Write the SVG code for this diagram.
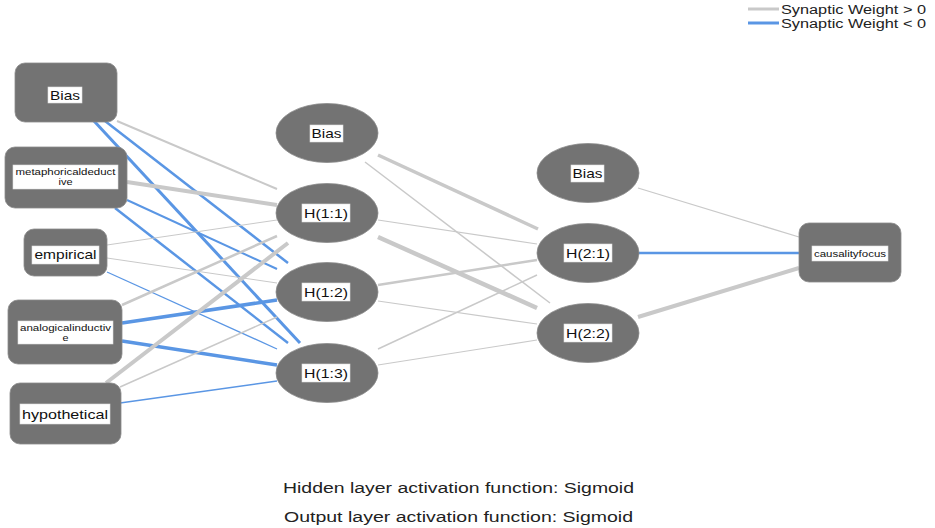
<svg xmlns="http://www.w3.org/2000/svg" width="935" height="528" viewBox="0 0 935 528">
  <style>
    .node { fill: #737373; stroke: #8a8a8a; stroke-width: 0.8; }
    .lbl { fill: #ffffff; stroke: #e2e2e2; stroke-width: 0.6; }
    .t { font-family: "Liberation Sans", Arial, sans-serif; fill: #111111; text-anchor: middle; }
    .pos { stroke: #c9c9c9; fill: none; }
    .neg { stroke: #5a96e4; fill: none; }
    .note { font-family: "Liberation Sans", Arial, sans-serif; fill: #222222; font-size: 14px; }
    .leg { font-family: "Liberation Sans", Arial, sans-serif; fill: #222222; font-size: 12px; }
  </style>

  <!-- legend -->
  <g id="legend">
    <line x1="748" y1="9" x2="779" y2="9" class="pos" stroke-width="3"/>
    <text x="781" y="14" class="leg" textLength="145" lengthAdjust="spacingAndGlyphs">Synaptic Weight &gt; 0</text>
    <line x1="748" y1="23" x2="779" y2="23" class="neg" stroke-width="3"/>
    <text x="781" y="28" class="leg" textLength="145" lengthAdjust="spacingAndGlyphs">Synaptic Weight &lt; 0</text>
  </g>

  <!-- synaptic weights -->
  <g id="connectors">
    <!-- input layer to hidden layer 1 -->
    <line x1="117" y1="121" x2="277" y2="189" class="pos" stroke-width="2"/>
    <line x1="105" y1="121" x2="288" y2="263" class="neg" stroke-width="2.5"/>
    <line x1="94" y1="121" x2="300" y2="343" class="neg" stroke-width="3"/>
    <line x1="127" y1="182" x2="277" y2="205" class="pos" stroke-width="4"/>
    <line x1="127" y1="200" x2="277" y2="269" class="neg" stroke-width="2"/>
    <line x1="115" y1="208" x2="288" y2="343" class="neg" stroke-width="2.5"/>
    <line x1="107" y1="245" x2="277" y2="220" class="pos" stroke-width="1"/>
    <line x1="107" y1="258" x2="277" y2="283" class="pos" stroke-width="1"/>
    <line x1="107" y1="272" x2="277" y2="349" class="neg" stroke-width="1.3"/>
    <line x1="122" y1="305" x2="277" y2="236" class="pos" stroke-width="2.5"/>
    <line x1="122" y1="323" x2="277" y2="300" class="neg" stroke-width="3.5"/>
    <line x1="122" y1="341" x2="277" y2="365" class="neg" stroke-width="3.5"/>
    <line x1="106" y1="383" x2="288" y2="243" class="pos" stroke-width="4"/>
    <line x1="120" y1="387" x2="277" y2="317" class="pos" stroke-width="1.5"/>
    <line x1="120" y1="403" x2="277" y2="381" class="neg" stroke-width="1.5"/>
    <!-- hidden layer 1 to hidden layer 2 -->
    <line x1="378" y1="155" x2="538" y2="229" class="pos" stroke-width="3.5"/>
    <line x1="365" y1="162" x2="550" y2="303" class="pos" stroke-width="1.5"/>
    <line x1="378" y1="220" x2="537" y2="244" class="pos" stroke-width="1.2"/>
    <line x1="378" y1="237" x2="537" y2="308" class="pos" stroke-width="4.5"/>
    <line x1="378" y1="285" x2="537" y2="260" class="pos" stroke-width="2.5"/>
    <line x1="378" y1="301" x2="537" y2="324" class="pos" stroke-width="1.2"/>
    <line x1="378" y1="349" x2="537" y2="275" class="pos" stroke-width="1.5"/>
    <line x1="378" y1="365" x2="537" y2="340" class="pos" stroke-width="1.2"/>
    <!-- hidden layer 2 to output -->
    <line x1="638" y1="188" x2="799" y2="237" class="pos" stroke-width="1.3"/>
    <line x1="638" y1="253" x2="799" y2="253" class="neg" stroke-width="2.5"/>
    <line x1="638" y1="317" x2="799" y2="268" class="pos" stroke-width="4"/>
  </g>

  <!-- input layer -->
  <g id="in-bias">
    <rect x="15" y="63" width="102" height="59" rx="10" class="node"/>
    <rect x="48" y="87" width="34" height="16" class="lbl"/>
    <text x="65" y="100" class="t" font-size="13" textLength="30" lengthAdjust="spacingAndGlyphs">Bias</text>
  </g>
  <g id="in-metaphoricaldeductive">
    <rect x="5" y="147" width="122" height="61" rx="10" class="node"/>
    <rect x="13" y="165" width="105" height="24" class="lbl"/>
    <text x="65.5" y="175" class="t" font-size="9" textLength="100" lengthAdjust="spacingAndGlyphs">metaphoricaldeduct</text>
    <text x="65.5" y="184.5" class="t" font-size="9" textLength="14" lengthAdjust="spacingAndGlyphs">ive</text>
  </g>
  <g id="in-empirical">
    <rect x="24" y="229" width="83" height="47" rx="10" class="node"/>
    <rect x="32" y="246" width="67" height="18" class="lbl"/>
    <text x="65.5" y="259" class="t" font-size="13" textLength="62" lengthAdjust="spacingAndGlyphs">empirical</text>
  </g>
  <g id="in-analogicalinductive">
    <rect x="8" y="300" width="114" height="64" rx="10" class="node"/>
    <rect x="18" y="321" width="95" height="23" class="lbl"/>
    <text x="65.5" y="331" class="t" font-size="9" textLength="91" lengthAdjust="spacingAndGlyphs">analogicalinductiv</text>
    <text x="65.5" y="340.5" class="t" font-size="9" textLength="6" lengthAdjust="spacingAndGlyphs">e</text>
  </g>
  <g id="in-hypothetical">
    <rect x="10" y="383" width="111" height="61" rx="10" class="node"/>
    <rect x="20" y="404" width="90" height="20" class="lbl"/>
    <text x="65" y="419" class="t" font-size="13" textLength="86" lengthAdjust="spacingAndGlyphs">hypothetical</text>
  </g>

  <!-- hidden layer 1 -->
  <g id="h1-bias">
    <ellipse cx="327" cy="133" rx="51" ry="29.5" class="node"/>
    <rect x="310" y="125" width="33" height="17" class="lbl"/>
    <text x="326.5" y="138" class="t" font-size="13" textLength="30" lengthAdjust="spacingAndGlyphs">Bias</text>
  </g>
  <g id="h1-1">
    <ellipse cx="327" cy="213" rx="51" ry="29.5" class="node"/>
    <rect x="302" y="204" width="48" height="18" class="lbl"/>
    <text x="326" y="218" class="t" font-size="13" textLength="44" lengthAdjust="spacingAndGlyphs">H(1:1)</text>
  </g>
  <g id="h1-2">
    <ellipse cx="327" cy="292" rx="51" ry="29.5" class="node"/>
    <rect x="302" y="283" width="48" height="18" class="lbl"/>
    <text x="326" y="297" class="t" font-size="13" textLength="44" lengthAdjust="spacingAndGlyphs">H(1:2)</text>
  </g>
  <g id="h1-3">
    <ellipse cx="327" cy="373" rx="51" ry="29.5" class="node"/>
    <rect x="302" y="364" width="48" height="18" class="lbl"/>
    <text x="326" y="378" class="t" font-size="13" textLength="44" lengthAdjust="spacingAndGlyphs">H(1:3)</text>
  </g>

  <!-- hidden layer 2 -->
  <g id="h2-bias">
    <ellipse cx="588" cy="173" rx="51" ry="29.5" class="node"/>
    <rect x="571" y="165" width="33" height="17" class="lbl"/>
    <text x="587.5" y="178" class="t" font-size="13" textLength="30" lengthAdjust="spacingAndGlyphs">Bias</text>
  </g>
  <g id="h2-1">
    <ellipse cx="588" cy="253" rx="51" ry="29.5" class="node"/>
    <rect x="564" y="244" width="48" height="18" class="lbl"/>
    <text x="588" y="258" class="t" font-size="13" textLength="44" lengthAdjust="spacingAndGlyphs">H(2:1)</text>
  </g>
  <g id="h2-2">
    <ellipse cx="588" cy="333" rx="51" ry="29.5" class="node"/>
    <rect x="564" y="324" width="48" height="18" class="lbl"/>
    <text x="588" y="338" class="t" font-size="13" textLength="44" lengthAdjust="spacingAndGlyphs">H(2:2)</text>
  </g>

  <!-- output layer -->
  <g id="out-causalityfocus">
    <rect x="799" y="223" width="102" height="59" rx="10" class="node"/>
    <rect x="812" y="246" width="76" height="15" class="lbl"/>
    <text x="850" y="257" class="t" font-size="9.5" textLength="72" lengthAdjust="spacingAndGlyphs">causalityfocus</text>
  </g>

  <!-- activation notes -->
  <g id="notes">
    <text x="283" y="493" class="note" textLength="351" lengthAdjust="spacingAndGlyphs">Hidden layer activation function: Sigmoid</text>
    <text x="284" y="522" class="note" textLength="349" lengthAdjust="spacingAndGlyphs">Output layer activation function: Sigmoid</text>
  </g>
</svg>
